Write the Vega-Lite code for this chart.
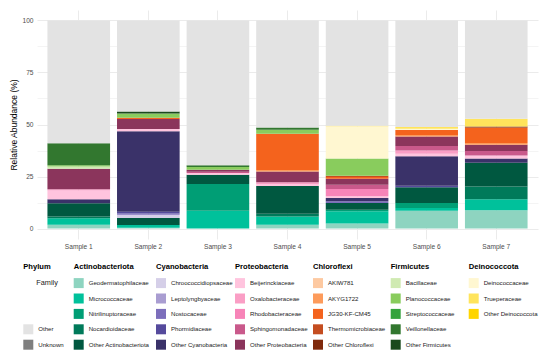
{
  "$schema": "https://vega.github.io/schema/vega-lite/v6.json",
  "width": 501,
  "height": 229,
  "autosize": {"type": "none"},
  "padding": {"left": 37, "top": 10, "right": 12, "bottom": 116},
  "background": "white",
  "config": {
    "font": "Liberation Sans",
    "view": {"stroke": null},
    "legend": {
      "orient": "none",
      "symbolType": "square",
      "symbolSize": 100,
      "symbolStrokeWidth": 0,
      "labelFontSize": 6.1,
      "labelColor": "#1a1a1a",
      "titleFontSize": 7.6,
      "titleFontWeight": "bold",
      "titleColor": "#000000",
      "titlePadding": 8,
      "rowPadding": 5.4,
      "labelOffset": 5,
      "padding": 0
    }
  },
  "data": {
    "values": [
      {"sample": "Sample 1", "phylum": "Actinobacteriota", "family": "Geodermatophilaceae", "value": 1.8},
      {"sample": "Sample 1", "phylum": "Actinobacteriota", "family": "Micrococcaceae", "value": 3.2},
      {"sample": "Sample 1", "phylum": "Actinobacteriota", "family": "Nocardioidaceae", "value": 0.8},
      {"sample": "Sample 1", "phylum": "Actinobacteriota", "family": "Other Actinobacteriota", "value": 6.4},
      {"sample": "Sample 1", "phylum": "Cyanobacteria", "family": "Other Cyanobacteria", "value": 1.9},
      {"sample": "Sample 1", "phylum": "Proteobacteria", "family": "Beijerinckiaceae", "value": 4.2},
      {"sample": "Sample 1", "phylum": "Proteobacteria", "family": "Oxalobacteraceae", "value": 0.6},
      {"sample": "Sample 1", "phylum": "Proteobacteria", "family": "Other Proteobacteria", "value": 9.9},
      {"sample": "Sample 1", "phylum": "Firmicutes", "family": "Bacillaceae", "value": 1.0},
      {"sample": "Sample 1", "phylum": "Firmicutes", "family": "Planococcaceae", "value": 0.6},
      {"sample": "Sample 1", "phylum": "Firmicutes", "family": "Veillonellaceae", "value": 10.6},
      {"sample": "Sample 1", "phylum": "Other", "family": "Other", "value": 59.0},

      {"sample": "Sample 2", "phylum": "Actinobacteriota", "family": "Geodermatophilaceae", "value": 0.4},
      {"sample": "Sample 2", "phylum": "Actinobacteriota", "family": "Micrococcaceae", "value": 1.3},
      {"sample": "Sample 2", "phylum": "Actinobacteriota", "family": "Other Actinobacteriota", "value": 3.4},
      {"sample": "Sample 2", "phylum": "Cyanobacteria", "family": "Chroococcidiopsaceae", "value": 1.6},
      {"sample": "Sample 2", "phylum": "Cyanobacteria", "family": "Nostocaceae", "value": 0.6},
      {"sample": "Sample 2", "phylum": "Cyanobacteria", "family": "Phormidiaceae", "value": 0.8},
      {"sample": "Sample 2", "phylum": "Cyanobacteria", "family": "Other Cyanobacteria", "value": 38.6},
      {"sample": "Sample 2", "phylum": "Proteobacteria", "family": "Beijerinckiaceae", "value": 1.1},
      {"sample": "Sample 2", "phylum": "Proteobacteria", "family": "Other Proteobacteria", "value": 4.8},
      {"sample": "Sample 2", "phylum": "Chloroflexi", "family": "JG30-KF-CM45", "value": 0.6},
      {"sample": "Sample 2", "phylum": "Firmicutes", "family": "Planococcaceae", "value": 2.1},
      {"sample": "Sample 2", "phylum": "Firmicutes", "family": "Other Firmicutes", "value": 1.0},
      {"sample": "Sample 2", "phylum": "Other", "family": "Other", "value": 43.7},

      {"sample": "Sample 3", "phylum": "Actinobacteriota", "family": "Micrococcaceae", "value": 8.6},
      {"sample": "Sample 3", "phylum": "Actinobacteriota", "family": "Nitrilinuptoraceae", "value": 12.8},
      {"sample": "Sample 3", "phylum": "Actinobacteriota", "family": "Other Actinobacteriota", "value": 4.5},
      {"sample": "Sample 3", "phylum": "Proteobacteria", "family": "Beijerinckiaceae", "value": 0.8},
      {"sample": "Sample 3", "phylum": "Proteobacteria", "family": "Sphingomonadaceae", "value": 0.6},
      {"sample": "Sample 3", "phylum": "Proteobacteria", "family": "Other Proteobacteria", "value": 1.0},
      {"sample": "Sample 3", "phylum": "Firmicutes", "family": "Planococcaceae", "value": 1.3},
      {"sample": "Sample 3", "phylum": "Firmicutes", "family": "Veillonellaceae", "value": 0.8},
      {"sample": "Sample 3", "phylum": "Other", "family": "Other", "value": 69.6},

      {"sample": "Sample 4", "phylum": "Actinobacteriota", "family": "Geodermatophilaceae", "value": 1.8},
      {"sample": "Sample 4", "phylum": "Actinobacteriota", "family": "Micrococcaceae", "value": 4.0},
      {"sample": "Sample 4", "phylum": "Actinobacteriota", "family": "Nocardioidaceae", "value": 1.3},
      {"sample": "Sample 4", "phylum": "Actinobacteriota", "family": "Other Actinobacteriota", "value": 13.3},
      {"sample": "Sample 4", "phylum": "Proteobacteria", "family": "Beijerinckiaceae", "value": 1.0},
      {"sample": "Sample 4", "phylum": "Proteobacteria", "family": "Oxalobacteraceae", "value": 0.9},
      {"sample": "Sample 4", "phylum": "Proteobacteria", "family": "Other Proteobacteria", "value": 5.1},
      {"sample": "Sample 4", "phylum": "Chloroflexi", "family": "AKYG1722", "value": 0.8},
      {"sample": "Sample 4", "phylum": "Chloroflexi", "family": "JG30-KF-CM45", "value": 17.4},
      {"sample": "Sample 4", "phylum": "Firmicutes", "family": "Planococcaceae", "value": 1.9},
      {"sample": "Sample 4", "phylum": "Firmicutes", "family": "Veillonellaceae", "value": 1.0},
      {"sample": "Sample 4", "phylum": "Other", "family": "Other", "value": 51.5},

      {"sample": "Sample 5", "phylum": "Actinobacteriota", "family": "Geodermatophilaceae", "value": 2.4},
      {"sample": "Sample 5", "phylum": "Actinobacteriota", "family": "Micrococcaceae", "value": 5.9},
      {"sample": "Sample 5", "phylum": "Actinobacteriota", "family": "Nitrilinuptoraceae", "value": 0.8},
      {"sample": "Sample 5", "phylum": "Actinobacteriota", "family": "Other Actinobacteriota", "value": 3.2},
      {"sample": "Sample 5", "phylum": "Cyanobacteria", "family": "Nostocaceae", "value": 0.8},
      {"sample": "Sample 5", "phylum": "Cyanobacteria", "family": "Other Cyanobacteria", "value": 1.6},
      {"sample": "Sample 5", "phylum": "Proteobacteria", "family": "Beijerinckiaceae", "value": 0.8},
      {"sample": "Sample 5", "phylum": "Proteobacteria", "family": "Rhodobacteraceae", "value": 3.5},
      {"sample": "Sample 5", "phylum": "Proteobacteria", "family": "Sphingomonadaceae", "value": 2.1},
      {"sample": "Sample 5", "phylum": "Proteobacteria", "family": "Other Proteobacteria", "value": 2.9},
      {"sample": "Sample 5", "phylum": "Chloroflexi", "family": "JG30-KF-CM45", "value": 0.8},
      {"sample": "Sample 5", "phylum": "Chloroflexi", "family": "Thermomicrobiaceae", "value": 0.6},
      {"sample": "Sample 5", "phylum": "Firmicutes", "family": "Planococcaceae", "value": 8.3},
      {"sample": "Sample 5", "phylum": "Deinococcota", "family": "Deinococcaceae", "value": 15.4},
      {"sample": "Sample 5", "phylum": "Deinococcota", "family": "Trueperaceae", "value": 0.3},
      {"sample": "Sample 5", "phylum": "Other", "family": "Other", "value": 50.6},

      {"sample": "Sample 6", "phylum": "Actinobacteriota", "family": "Geodermatophilaceae", "value": 8.6},
      {"sample": "Sample 6", "phylum": "Actinobacteriota", "family": "Micrococcaceae", "value": 1.3},
      {"sample": "Sample 6", "phylum": "Actinobacteriota", "family": "Nitrilinuptoraceae", "value": 2.4},
      {"sample": "Sample 6", "phylum": "Actinobacteriota", "family": "Other Actinobacteriota", "value": 7.5},
      {"sample": "Sample 6", "phylum": "Cyanobacteria", "family": "Phormidiaceae", "value": 0.8},
      {"sample": "Sample 6", "phylum": "Cyanobacteria", "family": "Other Cyanobacteria", "value": 14.2},
      {"sample": "Sample 6", "phylum": "Proteobacteria", "family": "Beijerinckiaceae", "value": 1.1},
      {"sample": "Sample 6", "phylum": "Proteobacteria", "family": "Oxalobacteraceae", "value": 1.6},
      {"sample": "Sample 6", "phylum": "Proteobacteria", "family": "Sphingomonadaceae", "value": 2.2},
      {"sample": "Sample 6", "phylum": "Proteobacteria", "family": "Other Proteobacteria", "value": 4.5},
      {"sample": "Sample 6", "phylum": "Chloroflexi", "family": "AKYG1722", "value": 0.8},
      {"sample": "Sample 6", "phylum": "Chloroflexi", "family": "JG30-KF-CM45", "value": 2.4},
      {"sample": "Sample 6", "phylum": "Deinococcota", "family": "Deinococcaceae", "value": 0.6},
      {"sample": "Sample 6", "phylum": "Deinococcota", "family": "Trueperaceae", "value": 0.8},
      {"sample": "Sample 6", "phylum": "Other", "family": "Other", "value": 51.2},

      {"sample": "Sample 7", "phylum": "Actinobacteriota", "family": "Geodermatophilaceae", "value": 8.8},
      {"sample": "Sample 7", "phylum": "Actinobacteriota", "family": "Micrococcaceae", "value": 5.3},
      {"sample": "Sample 7", "phylum": "Actinobacteriota", "family": "Nocardioidaceae", "value": 6.1},
      {"sample": "Sample 7", "phylum": "Actinobacteriota", "family": "Other Actinobacteriota", "value": 11.4},
      {"sample": "Sample 7", "phylum": "Cyanobacteria", "family": "Other Cyanobacteria", "value": 2.1},
      {"sample": "Sample 7", "phylum": "Proteobacteria", "family": "Beijerinckiaceae", "value": 1.4},
      {"sample": "Sample 7", "phylum": "Proteobacteria", "family": "Sphingomonadaceae", "value": 2.2},
      {"sample": "Sample 7", "phylum": "Proteobacteria", "family": "Other Proteobacteria", "value": 3.0},
      {"sample": "Sample 7", "phylum": "Chloroflexi", "family": "AKYG1722", "value": 0.8},
      {"sample": "Sample 7", "phylum": "Chloroflexi", "family": "JG30-KF-CM45", "value": 7.4},
      {"sample": "Sample 7", "phylum": "Chloroflexi", "family": "Other Chloroflexi", "value": 0.5},
      {"sample": "Sample 7", "phylum": "Deinococcota", "family": "Trueperaceae", "value": 3.8},
      {"sample": "Sample 7", "phylum": "Other", "family": "Other", "value": 47.2}
    ]
  },
  "transform": [
    {"window": [{"op": "row_number", "as": "idx"}]},
    {"stack": "value", "groupby": ["sample"], "sort": [{"field": "idx", "order": "ascending"}], "as": ["y0", "y1"]}
  ],
  "encoding": {
    "x": {
      "field": "sample", "type": "nominal",
      "scale": {"paddingInner": 0.1, "paddingOuter": 0.15},
      "axis": {"title": null, "labelAngle": 0, "domain": false, "ticks": false, "grid": true, "gridColor": "#ebebeb", "gridWidth": 1, "bandPosition": 0.5, "labelFontSize": 6.6, "labelColor": "#4d4d4d", "labelPadding": 4}
    },
    "y": {
      "field": "y0", "type": "quantitative",
      "scale": {"domain": [-5, 105], "nice": false, "zero": false},
      "axis": {
        "title": "Relative Abundance (%)",
        "values": [0, 12.5, 25, 37.5, 50, 62.5, 75, 87.5, 100],
        "labelExpr": "datum.value % 25 === 0 ? datum.label : ''",
        "gridColor": {"condition": {"test": "datum.value % 25 === 0", "value": "#ebebeb"}, "value": "#f4f4f4"},
        "gridWidth": 1,
        "domain": false, "ticks": false,
        "labelFontSize": 6.6, "labelColor": "#4d4d4d", "labelPadding": 4,
        "titleFontSize": 8.5, "titleFontWeight": "normal", "titleColor": "#000000", "titlePadding": 3
      }
    },
    "y2": {"field": "y1"}
  },
  "layer": [
    {
      "transform": [{"filter": {"field": "phylum", "equal": "Actinobacteriota"}}],
      "mark": {"type": "bar"},
      "encoding": {
        "color": {"field": "family", "type": "nominal",
          "scale": {"domain": ["Geodermatophilaceae", "Micrococcaceae", "Nitrilinuptoraceae", "Nocardioidaceae", "Other Actinobacteriota"],
                    "range": ["#8ed4c0", "#00c19b", "#009e75", "#007a5a", "#005840"]},
          "legend": {"title": "Actinobacteriota", "orient": "none", "legendX": 36.7, "legendY": 252.5}}
      }
    },
    {
      "transform": [{"filter": {"field": "phylum", "equal": "Cyanobacteria"}}],
      "mark": {"type": "bar"},
      "encoding": {
        "color": {"field": "family", "type": "nominal",
          "scale": {"domain": ["Chroococcidiopsaceae", "Leptolyngbyaceae", "Nostocaceae", "Phormidiaceae", "Other Cyanobacteria"],
                    "range": ["#d5cfe8", "#a99dd1", "#7c6ebb", "#554a9c", "#3a3269"]},
          "legend": {"title": "Cyanobacteria", "orient": "none", "legendX": 119, "legendY": 252.5}}
      }
    },
    {
      "transform": [{"filter": {"field": "phylum", "equal": "Proteobacteria"}}],
      "mark": {"type": "bar"},
      "encoding": {
        "color": {"field": "family", "type": "nominal",
          "scale": {"domain": ["Beijerinckiaceae", "Oxalobacteraceae", "Rhodobacteraceae", "Sphingomonadaceae", "Other Proteobacteria"],
                    "range": ["#ffc4de", "#fa9ec5", "#f784b8", "#c9598b", "#8b355c"]},
          "legend": {"title": "Proteobacteria", "orient": "none", "legendX": 198, "legendY": 252.5}}
      }
    },
    {
      "transform": [{"filter": {"field": "phylum", "equal": "Chloroflexi"}}],
      "mark": {"type": "bar"},
      "encoding": {
        "color": {"field": "family", "type": "nominal",
          "scale": {"domain": ["AKIW781", "AKYG1722", "JG30-KF-CM45", "Thermomicrobiaceae", "Other Chloroflexi"],
                    "range": ["#fdc9a1", "#fd9b5b", "#f4631d", "#c44d20", "#7f2a0c"]},
          "legend": {"title": "Chloroflexi", "orient": "none", "legendX": 276, "legendY": 252.5}}
      }
    },
    {
      "transform": [{"filter": {"field": "phylum", "equal": "Firmicutes"}}],
      "mark": {"type": "bar"},
      "encoding": {
        "color": {"field": "family", "type": "nominal",
          "scale": {"domain": ["Bacillaceae", "Planococcaceae", "Streptococcaceae", "Veillonellaceae", "Other Firmicutes"],
                    "range": ["#d0eab2", "#89cc5d", "#34a33d", "#32772f", "#1a4a1c"]},
          "legend": {"title": "Firmicutes", "orient": "none", "legendX": 353.7, "legendY": 252.5}}
      }
    },
    {
      "transform": [{"filter": {"field": "phylum", "equal": "Deinococcota"}}],
      "mark": {"type": "bar"},
      "encoding": {
        "color": {"field": "family", "type": "nominal",
          "scale": {"domain": ["Deinococcaceae", "Trueperaceae", "Other Deinococcota"],
                    "range": ["#fff7d1", "#ffe45c", "#ffd500"]},
          "legend": {"title": "Deinococcota", "orient": "none", "legendX": 431.7, "legendY": 252.5}}
      }
    },
    {
      "transform": [{"filter": {"field": "phylum", "equal": "Other"}}],
      "mark": {"type": "bar"},
      "encoding": {
        "color": {"field": "family", "type": "nominal",
          "scale": {"domain": ["Family", "b1", "b2", "Other", "Unknown"],
                    "range": ["rgba(0,0,0,0)", "rgba(0,0,0,0)", "rgba(0,0,0,0)", "#e3e3e3", "#7f7f7f"]},
          "legend": {"title": "Phylum", "orient": "none", "legendX": -13.7, "legendY": 252.5,
            "labelExpr": "datum.label === 'b1' || datum.label === 'b2' ? '' : datum.label",
            "encode": {"labels": {"update": {
              "fontSize": {"signal": "datum.value === 'Family' ? 7.3 : 6.1"},
              "fill": {"signal": "datum.value === 'Family' ? '#222222' : '#1a1a1a'"},
              "dx": {"signal": "datum.value === 'Family' ? -2 : 0"}
            }}}}}
      }
    }
  ],
  "resolve": {"scale": {"color": "independent"}, "legend": {"color": "independent"}}
}
